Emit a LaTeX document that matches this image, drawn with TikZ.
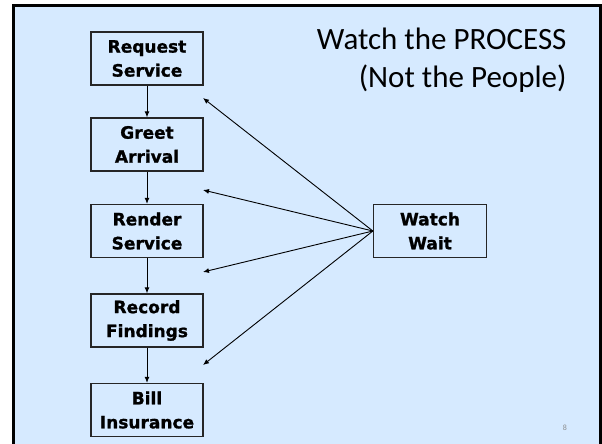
\documentclass[tikz,border=0pt]{standalone}
\usepackage{fontspec}
\setmainfont{Carlito}
\newfontfamily\stepfont[FakeBold=1.2]{DejaVu Sans Bold}
\usetikzlibrary{arrows.meta}

\definecolor{slidebg}{RGB}{214,234,255}
\definecolor{pagenum}{RGB}{140,140,140}

\tikzset{
  stepbox/.style={draw=black!85, line width=1.3pt, fill=slidebg,
    minimum width=112pt, minimum height=53pt, inner sep=0pt,
    align=center, font=\stepfont\fontsize{17}{24}\selectfont},
  flow/.style={line width=0.9pt, -{Latex[length=6pt,width=5pt]}},
}

\begin{document}
\begin{tikzpicture}[x=1pt,y=-1pt]
                \useasboundingbox (0,0) rectangle (602,444);
                
                % Slide background and frame
                \fill [white] (0,0) rectangle (602,444);%
                \fill [slidebg] (13.5,5.5) rectangle (600.5,444);%
                \draw [line width=2.8pt] (13.5,444) -- (13.5,5.5) -- (600.5,5.5) -- (600.5,444);%
                
                % Steps of the process, top to bottom
                \node [stepbox] (request) at (147,58.5) {Request\\Service};%
                \node [stepbox] (greet) at (147,144.5) {Greet\\Arrival};%
                \node [stepbox] (render) at (147,231) {Render\\Service};%
                \node [stepbox] (record) at (147,320.5) {Record\\Findings};%
                \node [stepbox] (bill) at (147,410) {Bill\\Insurance};%
                
                % Watcher box on the right
                \node [stepbox, minimum width=113pt] (watch) at (430,231) {Watch\\Wait};%
                
                % Drawing arrows between the steps
                \draw [flow] (request) -- (greet);%
                \draw [flow] (greet) -- (render);%
                \draw [flow] (render) -- (record);%
                \draw [flow] (record) -- (bill);%
                
                % Arrow ends in the gaps between the steps
                \coordinate (gapA) at (203,98);%
                \coordinate (gapB) at (203,190);%
                \coordinate (gapC) at (203,272);%
                \coordinate (gapD) at (203,365);%
                
                % Drawing arrows from the watcher
                \foreach \g in {gapA,gapB,gapC,gapD}
                  \draw [flow] (watch.west) -- (\g);%
                
                % Title and page number
                \node [anchor=base east, align=right, font=\fontsize{31}{38}\selectfont] (title) at (570,87) {Watch the PROCESS\\(Not the People)};%
                \node [anchor=center, text=pagenum, font=\fontsize{8}{9}\selectfont] (page) at (565,428) {8};%
\end{tikzpicture}
\end{document}
